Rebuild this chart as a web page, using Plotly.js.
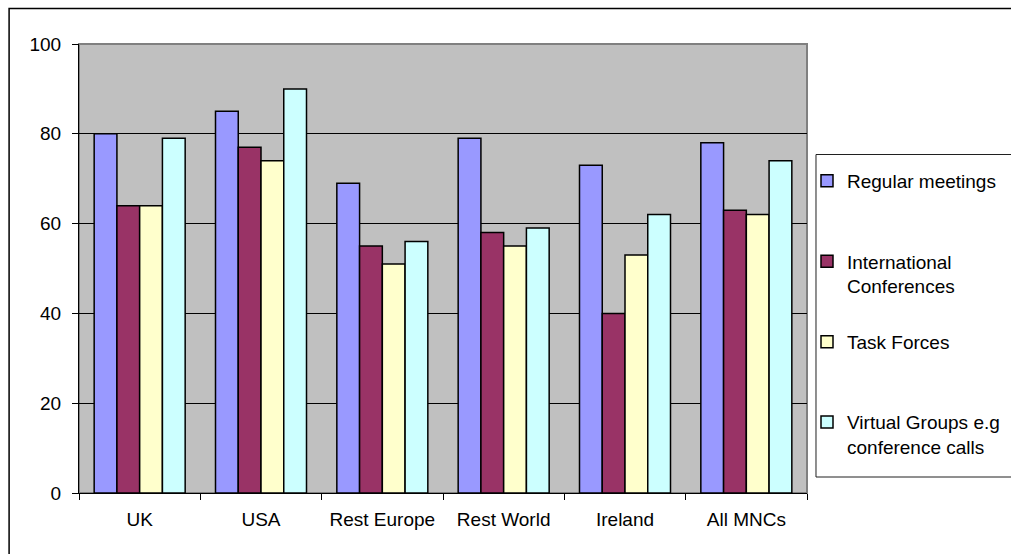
<!DOCTYPE html>
<html>
<head>
<meta charset="utf-8">
<script src="https://cdn.plot.ly/plotly-3.0.1.min.js"></script>
<style>html,body{margin:0;padding:0;background:#fff;}#chart{width:1011px;height:554px;}</style>
</head>
<body>
<div id="chart"></div>
<script>
const categories = ["UK", "USA", "Rest Europe", "Rest World", "Ireland", "All MNCs"];
const seriesNames = ["Regular meetings", "International<br>Conferences", "Task Forces", "Virtual Groups e.g<br>conference calls"];
const regularMeetings = [80, 85, 69, 79, 73, 78];
const internationalConferences = [64, 77, 55, 58, 40, 63];
const taskForces = [64, 74, 51, 55, 53, 62];
const virtualGroups = [79, 90, 56, 59, 62, 74];
const yTicks = [0, 20, 40, 60, 80, 100];

const seriesValues = [regularMeetings, internationalConferences, taskForces, virtualGroups];
const colors = ["#9999FF", "#993366", "#FFFFCC", "#CCFFFF"];
const FONT = "Arial, 'Liberation Sans', sans-serif";
const FS = 19;

const traces = seriesValues.map((vals, i) => ({
  type: "bar",
  name: seriesNames[i].indexOf("<br>") >= 0 ? seriesNames[i] : seriesNames[i] + "<br> ",
  x: categories,
  y: vals,
  legendgroup: "g" + i,
  marker: { color: colors[i], line: { color: "#000", width: 1.5 } },
  hoverinfo: "skip"
}));

const L = 79, R = 808, T = 44, B = 493;
const pw = R - L, ph = B - T;
const px = v => (v - L) / pw;
const py = v => (B - v) / ph;

const layout = {
  width: 1011, height: 554,
  margin: { l: L, r: 1011 - R, t: T, b: 554 - B, pad: 0 },
  paper_bgcolor: "#ffffff",
  plot_bgcolor: "#C0C0C0",
  font: { family: FONT, size: FS, color: "#000" },
  barmode: "group",
  bargap: 0.25,
  bargroupgap: 0,
  showlegend: true,
  legend: {
    xref: "container", yref: "container",
    x: 807 / 1011, y: 1 - 162 / 554,
    xanchor: "left", yanchor: "top",
    bgcolor: "rgba(0,0,0,0)", borderwidth: 0,
    font: { family: FONT, size: FS, color: "#000" },
    traceorder: "grouped",
    tracegroupgap: 28,
    valign: "top",
    maxheight: 500,
    itemclick: false, itemdoubleclick: false
  },
  xaxis: {
    type: "category",
    showline: true, linecolor: "#000", linewidth: 1,
    ticks: "outside", tickson: "boundaries", ticklen: 6, tickcolor: "#000", tickwidth: 1,
    showgrid: false, zeroline: false,
    ticklabelstandoff: 9,
    tickfont: { family: FONT, size: FS, color: "#000" },
    fixedrange: true
  },
  yaxis: {
    range: [0, 100],
    tickvals: yTicks, ticktext: yTicks.map(String),
    showline: true, linecolor: "#000", linewidth: 1,
    ticks: "outside", ticklen: 6, tickcolor: "#000", tickwidth: 1,
    showgrid: true, gridcolor: "#000", gridwidth: 1,
    zeroline: false,
    ticklabelstandoff: 7,
    tickfont: { family: FONT, size: FS, color: "#000" },
    fixedrange: true
  },
  shapes: [
    { type: "rect", xref: "paper", yref: "paper", x0: 0, x1: 1, y0: 0, y1: 1,
      line: { color: "#808080", width: 2 }, fillcolor: "rgba(0,0,0,0)", layer: "below" },
    { type: "rect", xref: "paper", yref: "paper", x0: px(9), x1: px(1030), y0: py(570), y1: py(8.5),
      line: { color: "#000", width: 1.5 }, fillcolor: "rgba(0,0,0,0)" },
    { type: "rect", xref: "paper", yref: "paper", x0: px(817), x1: px(1030), y0: py(477), y1: py(154.5),
      line: { color: "#202020", width: 1 }, fillcolor: "rgba(0,0,0,0)" }
  ]
};

Plotly.newPlot("chart", traces, layout, { displayModeBar: false, staticPlot: true });
</script>
</body>
</html>
